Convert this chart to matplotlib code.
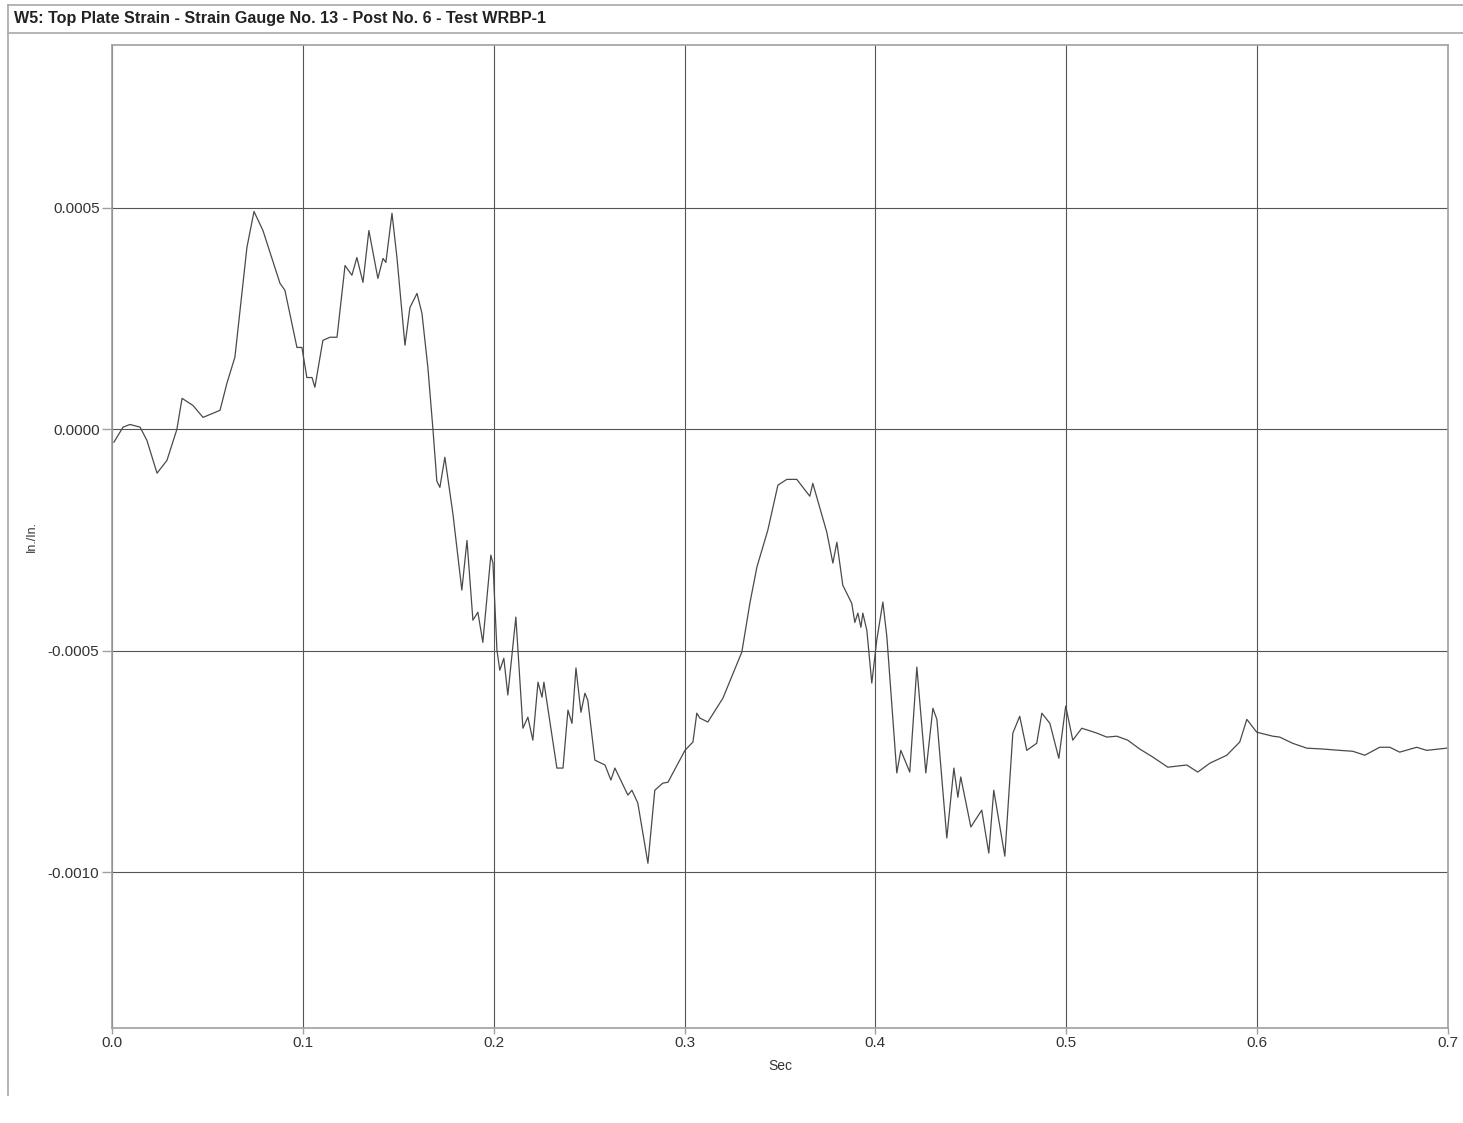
import matplotlib
matplotlib.use("Agg")
import matplotlib.pyplot as plt
from matplotlib.lines import Line2D

# ---- data (time in s, strain in in./in.) ----
time_s = [
    0.0010, 0.0058, 0.0094, 0.0147, 0.0183, 0.0236, 0.0288, 0.0340, 0.0367, 0.0424,
    0.0477, 0.0566, 0.0602, 0.0644, 0.0707, 0.0744, 0.0791, 0.0880, 0.0906, 0.0969,
    0.0995, 0.1021, 0.1048, 0.1063, 0.1105, 0.1142, 0.1179, 0.1221, 0.1257, 0.1283,
    0.1315, 0.1346, 0.1393, 0.1420, 0.1435, 0.1467, 0.1493, 0.1535, 0.1561, 0.1598,
    0.1624, 0.1655, 0.1682, 0.1702, 0.1718, 0.1744, 0.1786, 0.1833, 0.1860, 0.1891,
    0.1917, 0.1943, 0.1985, 0.1996, 0.2017, 0.2032, 0.2053, 0.2074, 0.2116, 0.2153,
    0.2179, 0.2205, 0.2232, 0.2253, 0.2263, 0.2331, 0.2363, 0.2389, 0.2410, 0.2431,
    0.2457, 0.2478, 0.2493, 0.2530, 0.2583, 0.2614, 0.2635, 0.2703, 0.2724, 0.2755,
    0.2808, 0.2844, 0.2886, 0.2913, 0.3002, 0.3044, 0.3064, 0.3080, 0.3122, 0.3201,
    0.3300, 0.3342, 0.3379, 0.3436, 0.3489, 0.3536, 0.3588, 0.3656, 0.3672, 0.3745,
    0.3777, 0.3798, 0.3829, 0.3876, 0.3892, 0.3908, 0.3924, 0.3934, 0.3955, 0.3981,
    0.4007, 0.4039, 0.4060, 0.4112, 0.4133, 0.4180, 0.4217, 0.4264, 0.4301, 0.4322,
    0.4374, 0.4411, 0.4432, 0.4447, 0.4500, 0.4557, 0.4594, 0.4620, 0.4678, 0.4720,
    0.4756, 0.4793, 0.4845, 0.4872, 0.4914, 0.4961, 0.4997, 0.5034, 0.5081, 0.5160,
    0.5212, 0.5265, 0.5322, 0.5385, 0.5453, 0.5532, 0.5631, 0.5689, 0.5752, 0.5841,
    0.5909, 0.5946, 0.5998, 0.6082, 0.6118, 0.6186, 0.6260, 0.6344, 0.6433, 0.6501,
    0.6564, 0.6642, 0.6695, 0.6747, 0.6836, 0.6888, 0.6993,
]
strain = [
    -0.000029, 0.000005, 0.000011, 0.000005, -0.000025, -0.000099, -0.000070, 0.000000, 0.000070, 0.000054,
    0.000027, 0.000043, 0.000104, 0.000163, 0.000411, 0.000492, 0.000449, 0.000330, 0.000314, 0.000185,
    0.000185, 0.000117, 0.000117, 0.000095, 0.000201, 0.000208, 0.000208, 0.000370, 0.000348, 0.000388,
    0.000332, 0.000449, 0.000341, 0.000386, 0.000377, 0.000488, 0.000388, 0.000190, 0.000275, 0.000307,
    0.000262, 0.000140, -0.000002, -0.000117, -0.000131, -0.000063, -0.000190, -0.000363, -0.000251, -0.000431,
    -0.000413, -0.000481, -0.000284, -0.000302, -0.000499, -0.000544, -0.000517, -0.000600, -0.000424, -0.000675,
    -0.000650, -0.000702, -0.000571, -0.000605, -0.000571, -0.000765, -0.000765, -0.000634, -0.000664, -0.000539,
    -0.000639, -0.000596, -0.000612, -0.000747, -0.000758, -0.000792, -0.000765, -0.000826, -0.000815, -0.000844,
    -0.000980, -0.000815, -0.000799, -0.000797, -0.000725, -0.000706, -0.000641, -0.000652, -0.000661, -0.000607,
    -0.000503, -0.000393, -0.000311, -0.000228, -0.000126, -0.000113, -0.000113, -0.000151, -0.000122, -0.000232,
    -0.000302, -0.000255, -0.000352, -0.000393, -0.000436, -0.000415, -0.000447, -0.000415, -0.000454, -0.000573,
    -0.000476, -0.000390, -0.000469, -0.000776, -0.000725, -0.000774, -0.000537, -0.000776, -0.000630, -0.000655,
    -0.000923, -0.000765, -0.000831, -0.000785, -0.000898, -0.000860, -0.000957, -0.000815, -0.000964, -0.000686,
    -0.000648, -0.000725, -0.000709, -0.000641, -0.000664, -0.000743, -0.000625, -0.000702, -0.000675, -0.000686,
    -0.000695, -0.000693, -0.000702, -0.000722, -0.000740, -0.000763, -0.000758, -0.000774, -0.000754, -0.000736,
    -0.000706, -0.000655, -0.000684, -0.000693, -0.000695, -0.000709, -0.000720, -0.000722, -0.000725, -0.000727,
    -0.000736, -0.000718, -0.000718, -0.000729, -0.000718, -0.000725, -0.000720,
]
x_ticks = [0.0, 0.1, 0.2, 0.3, 0.4, 0.5, 0.6, 0.7]
x_ticklabels = ["0.0", "0.1", "0.2", "0.3", "0.4", "0.5", "0.6", "0.7"]
y_ticks = [-0.0010, -0.0005, 0.0, 0.0005]
y_ticklabels = ["-0.0010", "-0.0005", "0.0000", "0.0005"]
title = "W5: Top Plate Strain - Strain Gauge No. 13 - Post No. 6 - Test WRBP-1"
x_label = "Sec"
y_label = "In./In."

plt.rcParams["font.family"] = ["Liberation Sans", "DejaVu Sans"]

W, H = 1463, 1123
fig = plt.figure(figsize=(W / 100, H / 100), dpi=100)
fig.patch.set_facecolor("white")

# axes placement (pixel box 112..1448 x 45..1028)
left, right, top, bottom = 112, 1448, 45, 1028
ax = fig.add_axes([left / W, 1 - bottom / H, (right - left) / W, (bottom - top) / H])

ax.plot(time_s, strain, color="#4a4a4a", lw=0.9)

ax.set_xlim(0.0, 0.7)
ax.set_ylim(-0.001352, 0.000868)
ax.set_xticks(x_ticks)
ax.set_xticklabels(x_ticklabels)
ax.set_yticks(y_ticks)
ax.set_yticklabels(y_ticklabels)
ax.grid(True, color="#555555", lw=0.8)
ax.set_axisbelow(True)
for s in ax.spines.values():
    s.set_color("#a0a0a0")
    s.set_linewidth(1.2)
ax.tick_params(axis="both", colors="#a0a0a0", labelcolor="#333333",
               labelsize=11, width=1, direction="out")
ax.tick_params(axis="y", pad=2, length=7)
ax.tick_params(axis="x", pad=2, length=4)
ax.set_xlabel(x_label, fontsize=10, color="#333333", labelpad=6)
ax.set_ylabel(y_label, fontsize=9, color="#333333")
ax.yaxis.set_label_coords((38 - left) / (right - left), 0.5)

# outer frame lines and title bar
fig.add_artist(Line2D([8 / W, 1], [1 - 5 / H, 1 - 5 / H], color="#a8a8a8", lw=1.2,
                      transform=fig.transFigure))
fig.add_artist(Line2D([8 / W, 1], [1 - 33 / H, 1 - 33 / H], color="#a8a8a8", lw=1.2,
                      transform=fig.transFigure))
fig.add_artist(Line2D([8 / W, 8 / W], [1 - 5 / H, 1 - 1095 / H], color="#a8a8a8", lw=1.2,
                      transform=fig.transFigure))
fig.text(14 / W, 1 - 19 / H, title, fontsize=11.6, fontweight="bold", color="#222222",
         va="center", ha="left")

fig.savefig("out.png", dpi=100, facecolor="white")
